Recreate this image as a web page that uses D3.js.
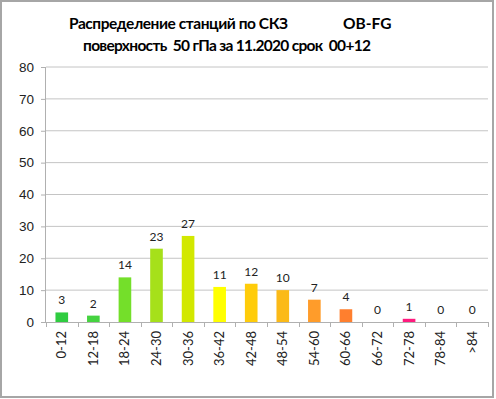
<!DOCTYPE html>
<html>
<head>
<meta charset="utf-8">
<script src="https://cdn.jsdelivr.net/npm/d3@7"></script>
<style>
  html, body { margin: 0; padding: 0; background: #fff; }
  svg { display: block; font-family: Lato, "Open Sans", sans-serif; }
  text { white-space: pre; }
</style>
</head>
<body>
<svg id="chart" width="496" height="399"></svg>
<script>
// chart data
const categories = ["0-12", "12-18", "18-24", "24-30", "30-36", "36-42", "42-48",
                    "48-54", "54-60", "60-66", "66-72", "72-78", "78-84", ">84"];
const counts = [3, 2, 14, 23, 27, 11, 12, 10, 7, 4, 0, 1, 0, 0];
const barColors = ["#2fcc40", "#45d340", "#74df2a", "#a6e01a", "#d2e800", "#ffff00", "#ffcc0a",
                   "#fbba18", "#ff9c2a", "#ff7f2e", "#ff7f2e", "#ff1a7e", "#cccccc", "#cccccc"];
const yTicks = [0, 10, 20, 30, 40, 50, 60, 70, 80];
const titleLines = ["Распределение станций по СКЗ", "поверхность  50 гПа за 11.2020 срок  00+12"];

const svg = d3.select("#chart");
const W = 496, H = 399;
const margin = {top: 67, right: 8, bottom: 77, left: 46};
const width = W - margin.left - margin.right;
const height = H - margin.top - margin.bottom;

// outer frame
svg.append("rect")
    .attr("x", 1).attr("y", 1)
    .attr("width", W - 4).attr("height", H - 3)
    .attr("fill", "#fff")
    .attr("stroke", "#a6a6a6")
    .attr("stroke-width", 2);

// title
const title = svg.append("g").attr("font-weight", "bold").attr("font-size", 15.5).attr("fill", "#000");
title.append("text").attr("x", 69).attr("y", 29).attr("textLength", 219).text(titleLines[0]);
title.append("text").attr("x", 343).attr("y", 29).text("OB-FG");
title.append("text").attr("x", 83).attr("y", 51).attr("textLength", 288).text(titleLines[1]);

const g = svg.append("g").attr("transform", `translate(${margin.left},${margin.top})`);

const x = d3.scaleBand().domain(categories).range([0, width]).paddingInner(0.6).paddingOuter(0.3);
const y = d3.scaleLinear().domain([0, 80]).range([height, 0]);

// gridlines
g.append("g").selectAll("line")
    .data(yTicks.slice(1))
    .join("line")
    .attr("x1", 0).attr("x2", width)
    .attr("y1", d => y(d)).attr("y2", d => y(d))
    .attr("stroke", "#c4c4c4").attr("stroke-width", 1);

// y axis
const yAxis = g.append("g")
    .call(d3.axisLeft(y).tickValues(yTicks).tickSize(5).tickPadding(7));
yAxis.select(".domain").attr("stroke", "#b0b0b0").attr("d", `M-0.5,${height}V0`);
yAxis.selectAll(".tick line").attr("stroke", "#b0b0b0");
yAxis.selectAll("text").attr("font-size", 13.5).attr("fill", "#222");

// bars
g.append("g").selectAll("rect")
    .data(counts)
    .join("rect")
    .attr("x", (d, i) => x(categories[i]))
    .attr("y", d => y(d))
    .attr("width", x.bandwidth())
    .attr("height", d => height - y(d))
    .attr("fill", (d, i) => barColors[i]);

// value labels
g.append("g").selectAll("text")
    .data(counts)
    .join("text")
    .attr("x", (d, i) => x(categories[i]) + x.bandwidth() / 2)
    .attr("y", d => y(d) - 8)
    .attr("text-anchor", "middle")
    .attr("font-size", 12)
    .attr("fill", "#222")
    .text(d => d);

// x axis with ticks at band boundaries
const step = x.step();
const xAxis = g.append("g").attr("transform", `translate(0,${height})`);
xAxis.append("line")
    .attr("x1", 0).attr("x2", width).attr("y1", 0.5).attr("y2", 0.5)
    .attr("stroke", "#b0b0b0");
xAxis.selectAll(".tk")
    .data(d3.range(categories.length + 1))
    .join("line")
    .attr("class", "tk")
    .attr("x1", i => Math.round(i * step) + 0.5).attr("x2", i => Math.round(i * step) + 0.5)
    .attr("y1", 0).attr("y2", 5)
    .attr("stroke", "#b0b0b0");
xAxis.selectAll(".lbl")
    .data(categories)
    .join("text")
    .attr("class", "lbl")
    .attr("transform", d => `translate(${x(d) + x.bandwidth() / 2 + 4.5},9) rotate(-90)`)
    .attr("text-anchor", "end")
    .attr("font-size", 13)
    .attr("fill", "#222")
    .text(d => d);
</script>
</body>
</html>
